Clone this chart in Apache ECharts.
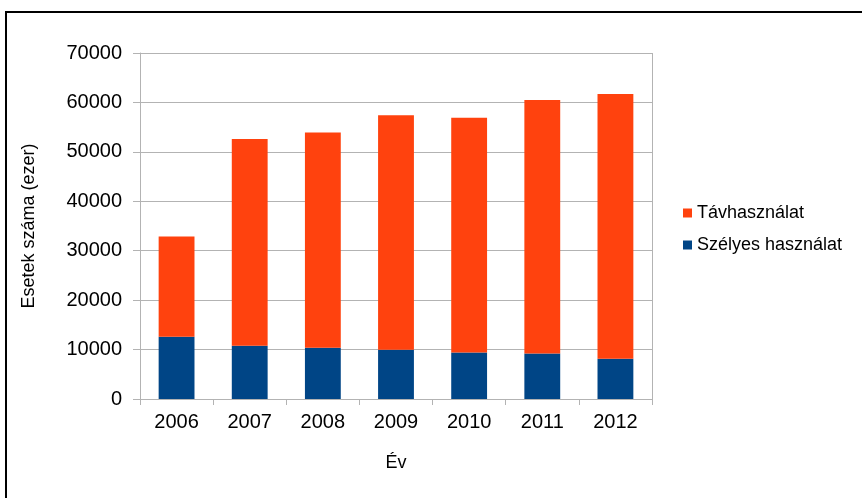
<!DOCTYPE html>
<html>
<head>
<meta charset="utf-8">
<script src="https://cdn.jsdelivr.net/npm/echarts@6/dist/echarts.min.js"></script>
<style>
  html, body { margin: 0; padding: 0; background: #fff; }
  #chart { width: 862px; height: 498px; }
</style>
</head>
<body>
<div id="chart"></div>
<script>
// évek
const years = ['2006', '2007', '2008', '2009', '2010', '2011', '2012'];
// Szélyes használat (ezer)
const szelyes = [12600, 10750, 10350, 9950, 9400, 9200, 8150];
// Távhasználat (ezer)
const tav = [20300, 41850, 43550, 47450, 47500, 51300, 53550];
const yTicks = [0, 10000, 20000, 30000, 40000, 50000, 60000, 70000];

const font = 'Liberation Sans, Arial, sans-serif';
const gridColor = '#b3b3b3';

const chart = echarts.init(document.getElementById('chart'));
chart.setOption({
  backgroundColor: '#fff',
  animation: false,
  textStyle: { fontFamily: font, color: '#000' },
  graphic: [{
    type: 'rect',
    shape: { x: 6, y: 12, width: 900, height: 600 },
    style: { fill: 'none', stroke: '#000', lineWidth: 2 },
    silent: true
  }],
  grid: { left: 140, right: 210, top: 53, bottom: 99 },
  legend: {
    orient: 'vertical',
    left: 678,
    top: 199,
    itemWidth: 9,
    itemHeight: 9,
    itemGap: 14,
    icon: 'rect',
    data: ['Távhasználat', 'Szélyes használat'],
    textStyle: { fontFamily: font, fontSize: 18, color: '#000', lineHeight: 18 }
  },
  xAxis: {
    type: 'category',
    data: years,
    name: 'Év',
    nameLocation: 'middle',
    nameGap: 55,
    nameTextStyle: { fontFamily: font, fontSize: 18, color: '#000' },
    axisLine: { lineStyle: { color: gridColor } },
    axisTick: { show: true, length: 6, lineStyle: { color: gridColor } },
    axisLabel: { fontFamily: font, fontSize: 20, color: '#000', margin: 13 }
  },
  yAxis: {
    type: 'value',
    min: yTicks[0],
    max: yTicks[yTicks.length - 1],
    interval: 10000,
    name: 'Esetek száma (ezer)',
    nameLocation: 'middle',
    nameRotate: 90,
    nameGap: 102,
    nameTextStyle: { fontFamily: font, fontSize: 18, color: '#000' },
    axisLine: { show: true, lineStyle: { color: gridColor } },
    axisTick: { show: true, length: 7, lineStyle: { color: gridColor } },
    axisLabel: {
      fontFamily: font, fontSize: 20, color: '#000', margin: 18,
      formatter: v => String(v)
    },
    splitLine: { lineStyle: { color: gridColor } }
  },
  series: [
    {
      name: 'Szélyes használat',
      type: 'bar',
      stack: 'total',
      barWidth: '49%',
      itemStyle: { color: '#004586' },
      data: szelyes
    },
    {
      name: 'Távhasználat',
      type: 'bar',
      stack: 'total',
      barWidth: '49%',
      itemStyle: { color: '#ff420e' },
      data: tav
    },
    {
      // jobb oldali keret
      type: 'line',
      data: [],
      markLine: {
        silent: true,
        symbol: 'none',
        label: { show: false },
        lineStyle: { color: gridColor, type: 'solid', width: 1 },
        data: [[{ x: 652, y: 53 }, { x: 652, y: 399 }]]
      }
    }
  ]
});
</script>
</body>
</html>
